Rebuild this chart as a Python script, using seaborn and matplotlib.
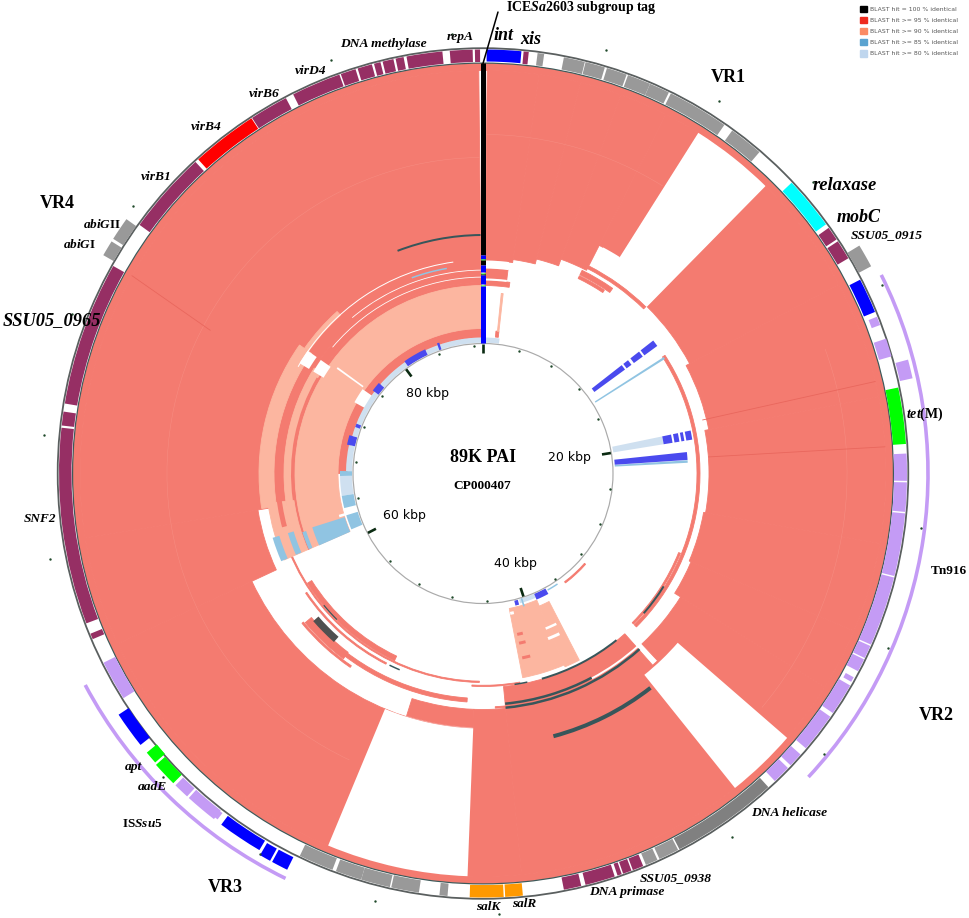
import numpy as np
import pandas as pd
import matplotlib.pyplot as plt
from matplotlib.patches import Patch
import seaborn as sns

GENOME_KB = 89
MAJOR_KB = [0, 20, 40, 60, 80]
MINOR_KB = [k for k in range(0, 89, 4) if k not in MAJOR_KB]

# all segments: start deg, end deg, inner r, outer r
salmon_hits = [
    (0, 360, 403, 410),
    (0.6, 8, 213, 403), (8, 14, 216, 403), (14, 20, 221, 403), (20, 27, 228, 403), (27, 32.3, 256, 403),
    (44.5, 62, 234, 403), (62, 79, 230, 403), (79, 100, 226, 403), (100, 113, 224, 403),
    (113, 122, 226, 403), (122, 137, 233, 403), (137, 138.5, 256, 403),
    (138.5, 174.5, 214, 403), (174.5, 182.2, 236, 403), (182.2, 197.5, 236, 254),
    (182.2, 245, 255, 403), (245, 260.8, 228, 403), (260.8, 359.4, 199, 403),
    (246.5, 359.4, 188, 191), (302, 359.4, 191, 199), (270, 299, 136, 145), (305, 359.4, 136, 145),
    (0.6, 7, 195, 205), (0.6, 8, 188, 193), (5.2, 6.4, 137, 143),
    (27, 44.3, 230, 233), (26, 35, 221, 226), (26, 33.5, 217, 220),
    (57, 135, 214, 217), (112, 135, 211, 213),
    (205.3, 238, 202, 207), (181, 248, 207.7, 209), (207, 236, 212.5, 214),
    (217, 230, 224, 232), (214.4, 230.4, 233, 235), (184, 225, 225, 229),
    (170, 183, 211.8, 213), (174.5, 177, 233.5, 235), (150, 160, 216, 217),
    (131.5, 143, 135.5, 137),
    (166, 168, 163, 166), (165.8, 168, 172, 175), (165.5, 168, 187, 190),
]
light_hits = [
    (246.5, 359.4, 145, 188), (246.5, 302, 191, 199), (246.5, 262, 199, 217), (261, 305, 209, 224),
    (305, 318, 213, 218), (152.7, 157, 144, 210), (157, 169, 137.5, 208), (5.8, 6.4, 143, 181),
]
salmon_strips = [(255, 300, 203, 208), (262, 300, 190, 192), (166, 168, 163, 166), (165.8, 168, 172, 175),
                 (165.5, 168, 187, 190)]
white_gaps = [
    (32.3, 44.5, 234, 403), (131, 141.3, 258, 403), (182.2, 202.6, 255, 403),
    (28, 32.3, 234, 256), (0.6, 7, 205, 213), (0.6, 7, 193, 195),
    (301, 305, 203, 214), (301, 305, 186, 198), (299, 305, 133, 147),
    (154.5, 158.5, 176, 179), (154, 158, 166, 168.5),
    (305.6, 306.2, 148, 180), (253, 254, 143, 150),
    (310, 359.4, 196, 196.8), (320, 359.4, 203, 203.8), (300, 352, 213, 214),
    (138, 152, 231, 233), (167.5, 169, 141, 144),
]
sky_hits = [
    (246.3, 252.5, 145, 179), (246.5, 253, 213, 220), (246.5, 253, 198, 204), (246.5, 252, 186, 190),
    (269, 271, 131, 143), (256, 261, 131, 143), (247, 253, 131, 143),
    (57.2, 57.8, 133, 215), (86.3, 87, 132, 205), (146, 151, 132.5, 134),
    (340, 350, 207.5, 209), (162.5, 163.2, 130.5, 139),
]
pale_hits = [
    (0.5, 7, 130.8, 136), (335, 359.4, 130.8, 136), (311, 325, 130.8, 136), (286, 307, 130.8, 136),
    (261, 269, 131, 143), (271, 282, 131, 137), (78.3, 80.8, 132, 183), (157, 164, 130.8, 135),
]
blue_hits = [
    (52, 53.8, 138, 176), (52, 53.8, 178, 184), (52, 53.8, 187, 198), (52, 53.8, 200, 216),
    (78.3, 80.8, 183, 192), (78.3, 80.8, 194, 199), (78.3, 80.8, 201, 204), (78.3, 80.8, 206, 212),
    (84, 86.2, 132, 205), (307, 311, 130.8, 138), (325, 335, 130.8, 137), (340.5, 341.5, 130.8, 138),
    (282, 286, 130.8, 139), (290, 291.5, 131, 136), (151.5, 157, 130.8, 137), (164.6, 166.2, 131, 136),
]
dark_hits = [
    (142, 165, 270, 274), (339, 359.4, 237.5, 239.5), (138.3, 174.5, 234, 236.5), (152, 174.5, 230, 232.5),
    (141.3, 164, 212.5, 214.5), (168, 171.5, 212.5, 214),
    (225, 230.4, 206, 207.2), (203, 206, 212.5, 214), (122, 131, 212, 214),
]
grey_block = [(221.5, 229, 218, 225)]
faint_arcs = [
    (205, 359.4, 315.8, 316.3), (0.6, 32, 338.8, 339.3), (70, 130, 363.8, 364.3),
]
radial_lines = [(76.3, 76.8, 226, 403), (85.8, 86.2, 226, 403), (297.7, 299.4, 308, 403)]

int_genes = [(0.5, 5.2, 412, 424), (62.8, 67.6, 412, 424)]
maroon_genes = [
    (5.5, 6.2), (54.6, 56.5), (56.8, 59.5), (157.8, 159.3), (159.5, 160.7), (160.9, 161.5), (161.9, 166),
    (166.6, 169), (247, 247.8), (249.3, 276.2), (276.5, 278.4), (279.5, 299.3), (305.9, 317.3), (327, 332.3),
    (333.4, 340.2), (340.4, 342.5), (342.8, 344.8), (345.1, 346), (346.3, 347.8), (348.1, 349.2),
    (349.6, 354.5), (355.5, 358.6), (358.9, 359.6),
]
grey_genes = [
    (7.4, 8.3), (11, 13.9), (14, 16.7), (17, 19.8), (20, 23.2), (23.2, 26), (26.3, 34.7), (36, 40.7),
    (152.6, 155.4), (155.7, 157.4), (184.8, 185.9), (188.7, 192.5), (192.7, 196.7), (196.7, 200.3), (200.8, 205.6),
]
helicase_gene = [(137.7, 152.4)]
grey_outer = [(58.8, 61.9, 426, 440), (299.9, 302, 426, 438), (302.4, 305.5, 426, 438)]
cyan_genes = [(46.7, 54)]
red_genes = [(317.8, 326.9)]
orange_genes = [(177.2, 181.8), (174.6, 177)]
lime_genes = [(78.3, 86, 411, 424), (225, 228.3, 426, 438), (228.6, 230.3, 424, 437)]
blue_outer = [
    (206.3, 208.5, 428, 442), (208.8, 210.3, 428, 442), (210.7, 216.7, 427, 438), (231.6, 236.5, 425, 437),
]
lilac_genes = [
    (68.3, 69.5, 415, 424), (71.5, 74, 412, 425), (87.3, 91, 411, 424), (91.2, 95.2, 411, 424),
    (95.4, 104, 411, 424), (104.2, 113.8, 411, 424), (114, 115.8, 411, 424), (116, 117.8, 411, 424),
    (118.8, 119.5, 414, 423), (120, 124.4, 411, 424), (125, 130.4, 411, 424), (131.5, 133.5, 411, 424),
    (134, 136.5, 411, 424), (238, 243.5, 411, 424),
    (75, 77.5, 427, 440), (217.5, 218.5, 428, 436), (217.9, 222.2, 427, 438), (222.5, 224.6, 427, 438),
]
brackets = [(63.5, 133, 445), (206, 242, 450.5)]
tag_track = [
    (218, 410, "#000000"), (214, 218, "#0000ff"), (213.3, 214.6, "#00ff00"), (208, 213, "#000000"),
    (201, 208, "#0000ff"), (199.3, 200.8, "#00ff00"), (198, 199.3, "#000000"), (189, 198, "#0000ff"),
    (187.3, 188.7, "#00ff00"), (130, 187.3, "#0000ff"),
]

legend_labels = [
    "BLAST hit = 100 % identical", "BLAST hit >= 95 % identical", "BLAST hit >= 90 % identical",
    "BLAST hit >= 85 % identical", "BLAST hit >= 80 % identical",
]
legend_colors = ["#000000", "#ee2a1e", "#fb8b64", "#5ba3d0", "#bfd6ee"]

sns.set_theme(style="white")
plt.rcParams["mathtext.fontset"] = "custom"
plt.rcParams["mathtext.it"] = "Liberation Serif:italic:bold"
plt.rcParams["mathtext.rm"] = "Liberation Serif:bold"

W, H = 970, 918
CX, CY, RMAX = 483, 473.5, 480
fig = plt.figure(figsize=(W / 100, H / 100), dpi=100, facecolor="white")
ax = fig.add_axes([(CX - RMAX) / W, (H - CY - RMAX) / H, 2 * RMAX / W, 2 * RMAX / H], projection="polar")
ax.set_theta_zero_location("N")
ax.set_theta_direction(-1)


def arcs(segs, color, r0=None, r1=None, seal=False, **kw):
    seg = np.array(segs, dtype=float)
    lo = seg[:, 2] if seg.shape[1] == 4 else r0
    hi = seg[:, 3] if seg.shape[1] == 4 else r1
    a0, a1 = np.deg2rad(seg[:, 0]), np.deg2rad(seg[:, 1])
    # seal=True strokes the edge too, otherwise neighbours show a white seam
    ax.bar((a0 + a1) / 2, hi - lo, width=a1 - a0, bottom=lo, color=color,
           edgecolor=color if seal else "none", linewidth=0.6 if seal else 0, **kw)


arcs(salmon_hits, "#f47b70", seal=True)
arcs(faint_arcs, "#f78d82")
for a0, a1, r0, r1 in radial_lines:
    ax.plot(np.deg2rad([a0, a1]), [r0, r1], color="#e9675d", lw=0.6)
arcs(light_hits, "#fcb6a0", seal=True)
arcs(salmon_strips, "#f47b70")
arcs(white_gaps, "white")
arcs(pale_hits, "#cfe0f0")
arcs(sky_hits, "#90c4e2")
arcs(blue_hits, "#4a4aee")
arcs(dark_hits, "#37565a")
arcs(grey_block, "#505050")

# outer ring and genes
arcs([(0, 360, 424.4, 426.2)], "#5a5f5f")
arcs([(0, 360, 409.8, 411)], "#3c5a5a")
arcs(int_genes, "#0000ff")
arcs(maroon_genes, "#962f64", 411.5, 424)
arcs(grey_genes, "#999999", 411.5, 424)
arcs(helicase_gene, "#808080", 411.5, 424)
arcs(grey_outer, "#999999")
arcs(cyan_genes, "#00ffff", 411.5, 424)
arcs(red_genes, "#ff0000", 411.5, 424)
arcs(orange_genes, "#ff9900", 411.5, 424)
arcs(lime_genes, "#00ff00")
arcs(blue_outer, "#0000ff")
arcs(lilac_genes, "#c49bf5")
arcs([(a, b, r - 1.8, r + 1.8) for a, b, r in brackets], "#c49bf5")

for r0, r1, col in tag_track:
    ax.plot([0, 0], [r0, r1], color=col, lw=3.6, solid_capstyle="butt")
ax.plot(np.deg2rad([0, 1.86]), [410, 461.7], color="black", lw=1.1)

# inner scale circle and ticks
arcs([(0, 360, 129.4, 130.6)], "#aaaaaa")
theta_minor = np.deg2rad(np.array(MINOR_KB) / GENOME_KB * 360)
dots = pd.DataFrame({"theta": np.r_[theta_minor, theta_minor], "r": [127.5] * len(theta_minor) + [441] * len(theta_minor)})
sns.scatterplot(data=dots, x="theta", y="r", ax=ax, color="#1f4a2a", s=3, linewidth=0, legend=False)
for kb in MAJOR_KB:
    t = np.deg2rad(kb / GENOME_KB * 360)
    ax.plot([t, t], [120.5, 129.5], color="#0b2b12", lw=1.9, solid_capstyle="butt")

ax.set_ylim(0, RMAX)
ax.set_axis_off()


def label(x, y, s, size=9.7, italic=True, weight="bold", family="Liberation Serif", color="black"):
    fig.text(x / W, 1 - y / H, s, ha="center", va="center", size=size, family=family, weight=weight,
             style="italic" if italic else "normal", color=color)


label(581, 8, r"ICE$\mathit{Sa}$2603 subgroup tag", 10, italic=False)
label(504, 36, "int", 13)
label(531, 40, "xis", 13)
label(728, 77, "VR1", 13, italic=False)
label(845, 185, "relaxase", 13.4)
label(859, 217, "mobC", 13)
label(887, 235, "SSU05_0915", 9.7)
label(925, 414, r"$\mathit{tet}$(M)", 10, italic=False)
label(949, 571, "Tn916", 9.5, italic=False)
label(936, 716, "VR2", 13, italic=False)
label(789, 813, "DNA helicase")
label(676, 878, "SSU05_0938")
label(627, 892, "DNA primase")
label(524, 904, "salR", 9.5)
label(488, 907, "salK", 9.5)
label(225, 888, "VR3", 13, italic=False)
label(142, 824, r"IS$\mathit{Ssu}$5", 9.5, italic=False)
label(152, 787, "aadE", 9.7)
label(133, 767, "apt", 9.7)
label(40, 519, "SNF2", 9.5)
label(52, 321, "SSU05_0965", 13.2)
label(80, 245, r"$\mathit{abiG}$I", 9.5, italic=False)
label(102, 225, r"$\mathit{abiG}$II", 9.5, italic=False)
label(57, 204, "VR4", 13, italic=False)
label(156, 177, "virB1", 9.7)
label(206, 127, "virB4", 9.7)
label(264, 94, "virB6", 9.7)
label(311, 71, "virD4", 9.7)
label(383, 44, "DNA methylase", 9.7)
label(460, 37, "repA", 9.7)
label(483, 457, "89K PAI", 13, italic=False)
label(482, 486, "CP000407", 9.6, italic=False)
label(569, 457, "20 kbp", 9, italic=False, weight="normal", family="DejaVu Sans")
label(428, 393, "80 kbp", 9, italic=False, weight="normal", family="DejaVu Sans")
label(404, 516, "60 kbp", 9, italic=False, weight="normal", family="DejaVu Sans")
label(515, 564, "40 kbp", 9, italic=False, weight="normal", family="DejaVu Sans")

handles = [Patch(color=c, label=t) for c, t in zip(legend_colors, legend_labels)]
fig.legend(handles=handles, loc="upper left", bbox_to_anchor=(858 / W, 1 - 3.7 / H), frameon=False, fontsize=4.45,
           labelcolor="#555555", handlelength=1.15, handleheight=1.2, labelspacing=0.78, handletextpad=0.55,
           borderpad=0.3, borderaxespad=0)

fig.savefig("out.png", dpi=100, facecolor="white")
